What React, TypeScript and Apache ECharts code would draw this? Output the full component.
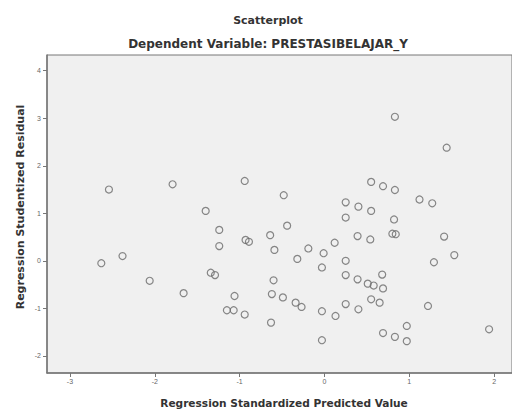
import React, { useEffect, useRef } from "react";
import * as echarts from "echarts";

const predicted: number[] = [
  -2.54, -1.79, -1.40, -2.38, -2.63, -2.06, -1.66, -0.94, -0.48, -1.24,
  -1.24, -0.44, -0.64, -0.93, -0.89, -0.59, -0.19, -0.32, -0.01, -0.03,
  -1.34, -1.29, -0.60, -1.06, -0.62, -0.49, -0.34, -0.27, -1.15, -1.07,
  -0.94, -0.03, -0.63, -0.03, 0.55, 0.69, 0.83, 1.12, 0.25, 0.40,
  0.55, 0.25, 0.82, 0.84, 0.39, 0.54, 0.12, 0.25, 0.25, 0.39,
  0.68, 0.51, 0.58, 0.69, 0.55, 0.65, 0.25, 0.40, 0.13, 0.97,
  0.69, 0.83, 0.97, 1.44, 1.27, 1.41, 1.53, 1.29, 1.22, 1.94,
  0.83, 0.80,
];
const residual: number[] = [
  1.50, 1.61, 1.05, 0.10, -0.05, -0.42, -0.68, 1.68, 1.38, 0.65,
  0.31, 0.74, 0.54, 0.44, 0.40, 0.23, 0.26, 0.04, 0.16, -0.14,
  -0.25, -0.30, -0.41, -0.74, -0.70, -0.77, -0.88, -0.97, -1.04, -1.04,
  -1.13, -1.06, -1.30, -1.67, 1.66, 1.57, 1.49, 1.29, 1.23, 1.14,
  1.05, 0.91, 0.87, 0.56, 0.52, 0.45, 0.38, 0.00, -0.30, -0.39,
  -0.29, -0.48, -0.52, -0.58, -0.81, -0.88, -0.91, -1.02, -1.16, -1.37,
  -1.52, -1.60, -1.69, 2.38, 1.21, 0.51, 0.12, -0.03, -0.95, -1.44,
  3.03, 0.57,
];
const xTicks: number[] = [-3, -2, -1, 0, 1, 2];
const yTicks: number[] = [-2, -1, 0, 1, 2, 3, 4];

const titleText = "Scatterplot";
const subtitleText = "Dependent Variable: PRESTASIBELAJAR_Y";
const xName = "Regression Standardized Predicted Value";
const yName = "Regression Studentized Residual";

export default function App() {
  const ref = useRef<HTMLDivElement>(null);
  useEffect(() => {
    document.body.style.margin = "0";
    if (!ref.current) return;
    const chart = echarts.init(ref.current, null, { renderer: "svg" });
    const points = predicted.map((x, i) => [x, residual[i]]);
    const font = "'DejaVu Sans', Verdana, sans-serif";
    const labelFont = "'Liberation Sans', Arial, sans-serif";
    chart.setOption({
      animation: false,
      backgroundColor: "#ffffff",
      title: [
        {
          text: titleText,
          left: 263,
          top: 10,
          textAlign: "center",
          textStyle: { fontSize: 11, fontWeight: "bold", color: "#333", fontFamily: font },
        },
        {
          text: subtitleText,
          left: 263,
          top: 33,
          textAlign: "center",
          textStyle: { fontSize: 12, fontWeight: "bold", color: "#333", fontFamily: font },
        },
      ],
      graphic: [
        {
          type: "text",
          x: 284,
          y: 403,
          style: {
            text: xName,
            fontSize: 10.6,
            fontWeight: "bold",
            fill: "#333",
            fontFamily: font,
            align: "center",
            verticalAlign: "middle",
          },
        },
        {
          type: "text",
          x: 20,
          y: 207,
          rotation: Math.PI / 2,
          style: {
            text: yName,
            fontSize: 11,
            fontWeight: "bold",
            fill: "#333",
            fontFamily: font,
            align: "center",
            verticalAlign: "middle",
          },
        },
      ],
      grid: {
        left: 47,
        top: 55,
        right: -2,
        bottom: 37,
        show: true,
        backgroundColor: "#f0f0f0",
        borderColor: "#777",
        borderWidth: 1,
      },
      xAxis: {
        type: "value",
        min: -3.27,
        max: 2.21,
        axisLine: { show: true, onZero: false, lineStyle: { color: "#777", width: 1.5 } },
        axisTick: { show: true, length: 4, lineStyle: { color: "#777" }, customValues: xTicks },
        axisLabel: { fontSize: 7, color: "#666", margin: 5, fontFamily: labelFont, customValues: xTicks },
        splitLine: { show: false },
      },
      yAxis: {
        type: "value",
        min: -2.36,
        max: 4.33,
        axisLine: { show: true, onZero: false, lineStyle: { color: "#777", width: 1.5 } },
        axisTick: { show: true, length: 4, lineStyle: { color: "#777" }, customValues: yTicks },
        axisLabel: { fontSize: 7, color: "#666", margin: 6, fontFamily: labelFont, customValues: yTicks },
        splitLine: { show: false },
      },
      series: [
        {
          type: "scatter",
          data: points,
          symbol: "circle",
          symbolSize: 7,
          itemStyle: {
            color: "rgba(0,0,0,0)",
            borderColor: "#6a6a6a",
            borderWidth: 1.2,
          },
        },
      ],
    });
    return () => chart.dispose();
  }, []);
  return <div ref={ref} style={{ width: 512, height: 410 }} />;
}
